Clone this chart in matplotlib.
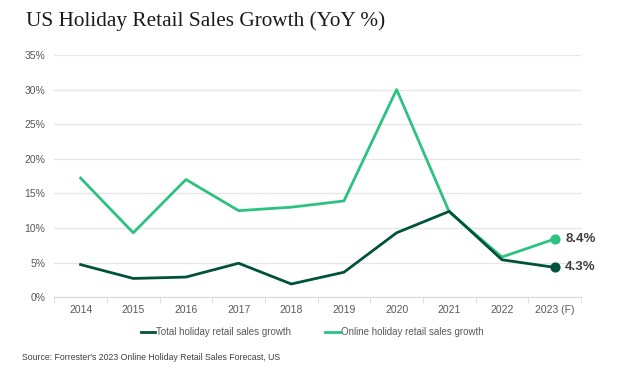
import matplotlib
matplotlib.use("Agg")
import matplotlib.pyplot as plt
import numpy as np

years = ["2014", "2015", "2016", "2017", "2018", "2019", "2020", "2021", "2022", "2023 (F)"]
total_growth = [4.7, 2.7, 2.9, 4.9, 1.9, 3.6, 9.3, 12.4, 5.4, 4.3]
online_growth = [17.2, 9.3, 17.0, 12.5, 13.0, 13.9, 30.0, 12.3, 5.8, 8.4]
yticks = [0, 5, 10, 15, 20, 25, 30, 35]

dark = "#00533a"
light = "#2cc27f"
gray = "#595959"

fig = plt.figure(figsize=(6.24, 3.79), dpi=100)
ax = fig.add_axes([0.087, 0.216, 0.844, 0.639])
x = np.arange(len(years))

ax.plot(x, total_growth, color=dark, lw=2, label="Total holiday retail sales growth", zorder=3)
ax.plot(x, online_growth, color=light, lw=2, label="Online holiday retail sales growth", zorder=2)
ax.scatter([x[-1]], [total_growth[-1]], color=dark, s=40, zorder=4)
ax.scatter([x[-1]], [online_growth[-1]], color=light, s=40, zorder=4)
ax.text(x[-1] + 0.2, total_growth[-1], f"{total_growth[-1]}%", va="center", ha="left",
        fontsize=9.5, fontweight="bold", color="#404040", family="Liberation Sans")
ax.text(x[-1] + 0.2, online_growth[-1], f"{online_growth[-1]}%", va="center", ha="left",
        fontsize=9.5, fontweight="bold", color="#404040", family="Liberation Sans")

ax.set_xlim(-0.5, len(years) - 0.5)
ax.set_ylim(0, 35)
ax.set_yticks(yticks)
ax.set_yticklabels([f"{v}%" for v in yticks])
ax.set_xticks(x)
ax.set_xticklabels(years)
ax.set_xticks(np.arange(-0.5, len(years)), minor=True)
ax.tick_params(axis="x", which="major", length=0, pad=6)
ax.tick_params(axis="x", which="minor", length=4, color="#d9d9d9")
ax.tick_params(axis="y", length=0, pad=6.5)
for lab in ax.get_xticklabels() + ax.get_yticklabels():
    lab.set_fontsize(7.5)
    lab.set_color(gray)
    lab.set_family("Liberation Sans")
ax.grid(axis="y", color="#e6e6e6", lw=1)
ax.set_axisbelow(True)
for s in ["top", "right", "left"]:
    ax.spines[s].set_visible(False)
ax.spines["bottom"].set_color("#d9d9d9")

fig.text(0.042, 0.945, "US Holiday Retail Sales Growth (YoY %)", fontsize=15.3,
         family="Liberation Serif", color="#1a1a1a", va="center")

leg = fig.legend(loc="center", bbox_to_anchor=(0.5, 0.124), ncol=2, frameon=False,
                 prop={"family": "Liberation Sans", "size": 7}, handlelength=1.5,
                 handletextpad=0.1, columnspacing=3.5)
for t in leg.get_texts():
    t.set_color(gray)

fig.text(0.035, 0.057, "Source: Forrester's 2023 Online Holiday Retail Sales Forecast, US",
         fontsize=6.3, family="Liberation Sans", color="#404040", va="center")

fig.savefig("out.png", dpi=100, facecolor="white")
